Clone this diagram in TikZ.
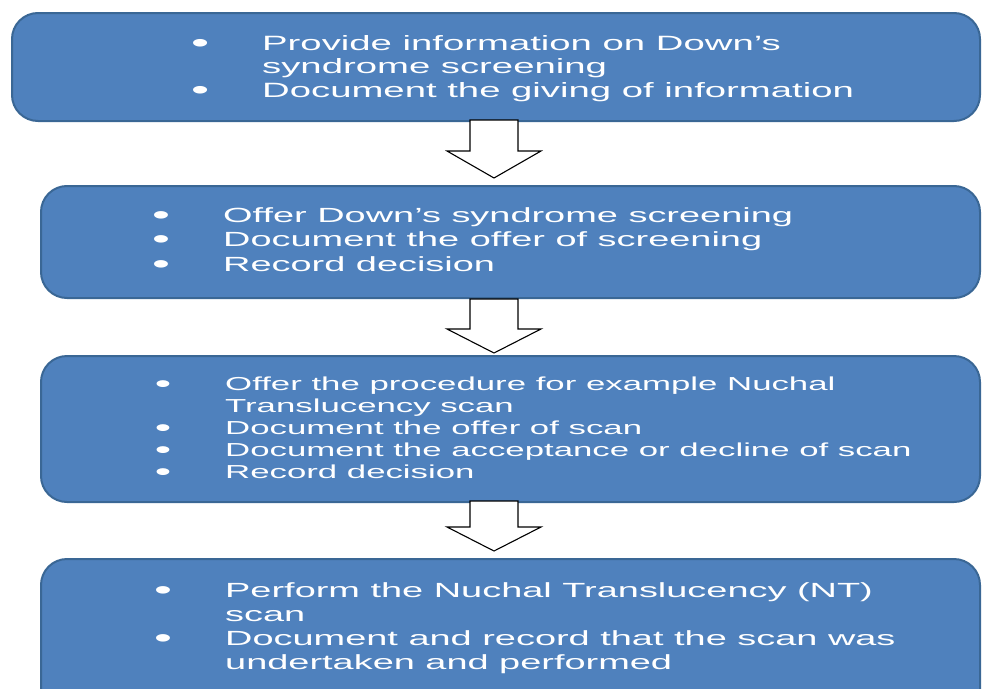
\documentclass[tikz,border=0pt]{standalone}
\usepackage{fontspec}
\setmainfont{Liberation Sans}[FakeStretch=1.85]
\definecolor{boxfill}{HTML}{4F81BD}
\definecolor{boxedge}{HTML}{3A6795}
\tikzset{
  stage/.style={draw=boxedge, line width=2pt, fill=boxfill, rounded corners=26pt,
    inner sep=0pt, anchor=north west},
  blockarr/.style={draw=black, fill=white, line width=1.1pt, line join=miter},
  listtxt/.style={text=white, anchor=base west, inner sep=0pt}
}
\newcommand\bul{\makebox[0pt]{\smash{\raisebox{-2pt}{\scalebox{1.35}{\textbullet}}}}\hspace{62pt}}
\newcommand\ind{\hspace{62pt}}
\newcommand\barrow[3]{\draw[blockarr] (470,#1) -- (518,#1) -- (518,#2) -- (541,#2) -- (494,#3) -- (447,#2) -- (470,#2) -- cycle;}
\begin{document}
\begin{tikzpicture}[x=1pt,y=-1pt]
\useasboundingbox (0,0) rectangle (982,688);
\clip (0,0) rectangle (982,688);
\node[stage, minimum width=968pt, minimum height=108pt] (b1) at (11,12) {};
\node[stage, minimum width=939pt, minimum height=112pt] (b2) at (40,185) {};
\node[stage, minimum width=939pt, minimum height=146pt] (b3) at (40,355) {};
\node[stage, minimum width=939pt, minimum height=170pt] (b4) at (40,558) {};
\barrow{120}{151}{178}
\barrow{299}{329}{353}
\barrow{501}{527}{551}
\node[listtxt] (t1) at (200,50) {\fontsize{20.7}{23.5}\selectfont
  \begin{tabular}[t]{@{}l@{}}
  \bul Provide information on Down’s\\
  \ind syndrome screening\\
  \bul Document the giving of information
  \end{tabular}};
\node[listtxt] (t2) at (161,222) {\fontsize{20.5}{24.5}\selectfont
  \begin{tabular}[t]{@{}l@{}}
  \bul Offer Down’s syndrome screening\\
  \bul Document the offer of screening\\
  \bul Record decision
  \end{tabular}};
\node[listtxt] (t3) at (163,390) {\fontsize{18.8}{22}\selectfont
  \begin{tabular}[t]{@{}l@{}}
  \bul Offer the procedure for example Nuchal\\
  \ind Translucency scan\\
  \bul Document the offer of scan\\
  \bul Document the acceptance or decline of scan\\
  \bul Record decision
  \end{tabular}};
\node[listtxt] (t4) at (163,597) {\fontsize{20.5}{24}\selectfont
  \begin{tabular}[t]{@{}l@{}}
  \bul Perform the Nuchal Translucency (NT)\\
  \ind scan\\
  \bul Document and record that the scan was\\
  \ind undertaken and performed
  \end{tabular}};
\end{tikzpicture}
\end{document}
